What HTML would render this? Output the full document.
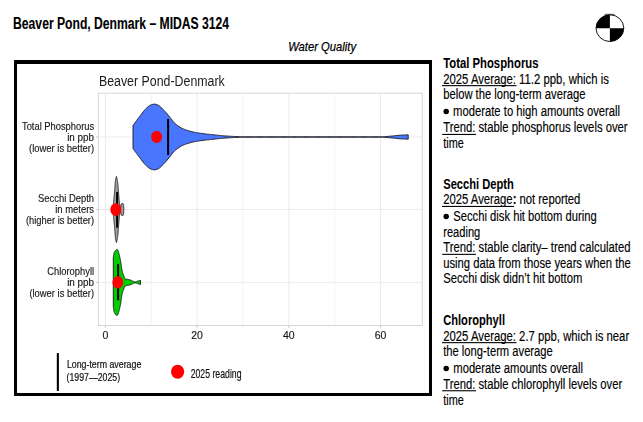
<!DOCTYPE html>
<html><head><meta charset="utf-8"><title>Beaver Pond, Denmark - MIDAS 3124</title>
<style>html,body{margin:0;padding:0;background:#fff;width:643px;height:422px;overflow:hidden}
svg text{font-family:"Liberation Sans",sans-serif}</style></head><body>
<svg width="643" height="422" viewBox="0 0 643 422" style="display:block">
<rect width="643" height="422" fill="#fff"/>
<text x="13.10" y="28.80" font-size="15.6" font-weight="bold" font-style="normal" fill="#000" stroke="#000" stroke-width="0.1" textLength="216.00" lengthAdjust="spacingAndGlyphs">Beaver Pond, Denmark – MIDAS 3124</text>
<text x="288.20" y="51.30" font-size="13" font-weight="normal" font-style="italic" fill="#000" stroke="#000" stroke-width="0.25" textLength="67.83" lengthAdjust="spacingAndGlyphs">Water Quality</text>
<g><path d="M609.9,28.15 L596.0,28.15 A13.9,13.35 0 0 1 609.9,14.799999999999999 Z" fill="#000"/><path d="M609.9,28.15 L623.8,28.15 A13.9,13.35 0 0 1 609.9,41.5 Z" fill="#000"/><ellipse cx="609.9" cy="28.15" rx="13.9" ry="13.35" fill="none" stroke="#000" stroke-width="0.9"/><line x1="604.8" y1="14.3" x2="614.6" y2="14.3" stroke="#000" stroke-width="0.7"/></g>
<rect x="14" y="60" width="418" height="4" fill="#000"/>
<rect x="14" y="60" width="3" height="336" fill="#000"/>
<rect x="429" y="60" width="3" height="336" fill="#000"/>
<rect x="14" y="393" width="418" height="3" fill="#000"/>
<g style="will-change:transform">
<text x="98.90" y="85.50" font-size="14" font-weight="normal" font-style="normal" fill="#1a1a1a" textLength="125.88" lengthAdjust="spacingAndGlyphs">Beaver Pond-Denmark</text>
</g>
<line x1="151.25" y1="93.2" x2="151.25" y2="325.5" stroke="#ebebeb" stroke-width="0.6"/>
<line x1="242.95" y1="93.2" x2="242.95" y2="325.5" stroke="#ebebeb" stroke-width="0.6"/>
<line x1="334.65" y1="93.2" x2="334.65" y2="325.5" stroke="#ebebeb" stroke-width="0.6"/>
<line x1="105.40" y1="93.2" x2="105.40" y2="325.5" stroke="#ebebeb" stroke-width="1"/>
<line x1="197.10" y1="93.2" x2="197.10" y2="325.5" stroke="#ebebeb" stroke-width="1"/>
<line x1="288.80" y1="93.2" x2="288.80" y2="325.5" stroke="#ebebeb" stroke-width="1"/>
<line x1="380.50" y1="93.2" x2="380.50" y2="325.5" stroke="#ebebeb" stroke-width="1"/>
<line x1="98.4" y1="137.0" x2="422.3" y2="137.0" stroke="#ebebeb" stroke-width="1"/>
<line x1="98.4" y1="209.5" x2="422.3" y2="209.5" stroke="#ebebeb" stroke-width="1"/>
<line x1="98.4" y1="282.4" x2="422.3" y2="282.4" stroke="#ebebeb" stroke-width="1"/>
<rect x="98.4" y="93.2" width="323.90" height="232.30" fill="none" stroke="#d6d6d6" stroke-width="1"/>
<line x1="96" y1="137.0" x2="98.4" y2="137.0" stroke="#cfcfcf" stroke-width="1"/>
<line x1="96" y1="209.5" x2="98.4" y2="209.5" stroke="#cfcfcf" stroke-width="1"/>
<line x1="96" y1="282.4" x2="98.4" y2="282.4" stroke="#cfcfcf" stroke-width="1"/>
<line x1="105.40" y1="325.5" x2="105.40" y2="328" stroke="#cfcfcf" stroke-width="1"/>
<line x1="197.10" y1="325.5" x2="197.10" y2="328" stroke="#cfcfcf" stroke-width="1"/>
<line x1="288.80" y1="325.5" x2="288.80" y2="328" stroke="#cfcfcf" stroke-width="1"/>
<line x1="380.50" y1="325.5" x2="380.50" y2="328" stroke="#cfcfcf" stroke-width="1"/>
<path d="M133.00,125.50 L133.92,124.20 L134.84,122.91 L135.76,121.64 L136.68,120.38 L137.60,119.15 L138.52,117.94 L139.44,116.74 L140.36,115.54 L141.28,114.31 L142.20,113.08 L143.12,111.88 L144.04,110.73 L144.97,109.64 L145.89,108.66 L146.81,107.79 L147.73,107.00 L148.65,106.26 L149.57,105.61 L150.49,105.12 L151.41,104.79 L152.33,104.49 L153.25,104.25 L154.17,104.12 L155.09,104.13 L156.01,104.33 L156.93,104.67 L157.85,105.09 L158.77,105.54 L159.69,106.16 L160.61,106.94 L161.53,107.83 L162.45,108.76 L163.37,109.67 L164.29,110.65 L165.21,111.68 L166.13,112.75 L167.05,113.85 L167.98,114.97 L168.90,116.08 L169.82,117.18 L170.74,118.36 L171.66,119.59 L172.58,120.81 L173.50,121.95 L174.42,122.96 L175.34,123.78 L176.26,124.53 L177.18,125.24 L178.10,125.91 L179.02,126.54 L179.94,127.12 L180.86,127.66 L181.78,128.16 L182.70,128.62 L183.62,129.03 L184.54,129.39 L185.46,129.73 L186.38,130.05 L187.30,130.36 L188.22,130.65 L189.14,130.93 L190.06,131.19 L190.99,131.43 L191.91,131.67 L192.83,131.88 L193.75,132.09 L194.67,132.29 L195.59,132.47 L196.51,132.64 L197.43,132.80 L198.35,132.96 L199.27,133.10 L200.19,133.24 L201.11,133.37 L202.03,133.49 L202.95,133.61 L203.87,133.73 L204.79,133.83 L205.71,133.94 L206.63,134.04 L207.55,134.14 L208.47,134.24 L209.39,134.34 L210.31,134.44 L211.23,134.54 L212.15,134.63 L213.07,134.73 L214.00,134.84 L214.92,134.94 L215.84,135.04 L216.76,135.14 L217.68,135.23 L218.60,135.33 L219.52,135.43 L220.44,135.52 L221.36,135.61 L222.28,135.69 L223.20,135.77 L224.12,135.84 L225.04,135.91 L225.96,135.98 L226.88,136.04 L227.80,136.09 L228.72,136.15 L229.64,136.21 L230.56,136.26 L231.48,136.31 L232.40,136.37 L233.32,136.41 L234.24,136.46 L235.16,136.50 L236.08,136.54 L237.01,136.57 L237.93,136.60 L238.85,136.63 L239.77,136.65 L240.69,136.66 L241.61,136.68 L242.53,136.69 L243.45,136.71 L244.37,136.72 L245.29,136.73 L246.21,136.75 L247.13,136.76 L248.05,136.77 L248.97,136.78 L249.89,136.79 L250.81,136.80 L251.73,136.81 L252.65,136.82 L253.57,136.83 L254.49,136.83 L255.41,136.84 L256.33,136.84 L257.25,136.85 L258.17,136.85 L259.09,136.85 L260.02,136.85 L260.94,136.85 L261.86,136.85 L262.78,136.85 L263.70,136.85 L264.62,136.85 L265.54,136.85 L266.46,136.85 L267.38,136.85 L268.30,136.85 L269.22,136.85 L270.14,136.85 L271.06,136.85 L271.98,136.85 L272.90,136.85 L273.82,136.85 L274.74,136.85 L275.66,136.85 L276.58,136.85 L277.50,136.85 L278.42,136.85 L279.34,136.85 L280.26,136.85 L281.18,136.85 L282.11,136.85 L283.03,136.85 L283.95,136.85 L284.87,136.85 L285.79,136.85 L286.71,136.85 L287.63,136.85 L288.55,136.85 L289.47,136.85 L290.39,136.85 L291.31,136.85 L292.23,136.85 L293.15,136.85 L294.07,136.85 L294.99,136.85 L295.91,136.85 L296.83,136.85 L297.75,136.85 L298.67,136.85 L299.59,136.85 L300.51,136.85 L301.43,136.85 L302.35,136.85 L303.27,136.85 L304.19,136.85 L305.12,136.85 L306.04,136.85 L306.96,136.85 L307.88,136.85 L308.80,136.85 L309.72,136.85 L310.64,136.85 L311.56,136.85 L312.48,136.85 L313.40,136.85 L314.32,136.85 L315.24,136.85 L316.16,136.85 L317.08,136.85 L318.00,136.85 L318.92,136.85 L319.84,136.85 L320.76,136.85 L321.68,136.85 L322.60,136.85 L323.52,136.85 L324.44,136.85 L325.36,136.85 L326.28,136.85 L327.20,136.85 L328.13,136.85 L329.05,136.85 L329.97,136.85 L330.89,136.85 L331.81,136.85 L332.73,136.85 L333.65,136.85 L334.57,136.85 L335.49,136.85 L336.41,136.85 L337.33,136.85 L338.25,136.85 L339.17,136.85 L340.09,136.85 L341.01,136.85 L341.93,136.85 L342.85,136.85 L343.77,136.85 L344.69,136.85 L345.61,136.85 L346.53,136.85 L347.45,136.85 L348.37,136.85 L349.29,136.85 L350.21,136.85 L351.14,136.85 L352.06,136.85 L352.98,136.85 L353.90,136.85 L354.82,136.85 L355.74,136.85 L356.66,136.85 L357.58,136.85 L358.50,136.85 L359.42,136.85 L360.34,136.85 L361.26,136.85 L362.18,136.85 L363.10,136.85 L364.02,136.85 L364.94,136.85 L365.86,136.85 L366.78,136.85 L367.70,136.85 L368.62,136.85 L369.54,136.85 L370.46,136.85 L371.38,136.85 L372.30,136.85 L373.22,136.85 L374.15,136.85 L375.07,136.85 L375.99,136.85 L376.91,136.85 L377.83,136.85 L378.75,136.85 L379.67,136.85 L380.59,136.85 L381.51,136.83 L382.43,136.79 L383.35,136.74 L384.27,136.69 L385.19,136.62 L386.11,136.54 L387.03,136.46 L387.95,136.37 L388.87,136.29 L389.79,136.20 L390.71,136.11 L391.63,136.03 L392.55,135.95 L393.47,135.86 L394.39,135.76 L395.31,135.66 L396.23,135.56 L397.16,135.45 L398.08,135.36 L399.00,135.28 L399.92,135.21 L400.84,135.15 L401.76,135.09 L402.68,135.03 L403.60,134.98 L404.52,134.94 L405.44,134.89 L406.36,134.86 L407.28,134.82 L408.20,134.80 L408.20,139.20 L407.28,139.18 L406.36,139.14 L405.44,139.11 L404.52,139.06 L403.60,139.02 L402.68,138.97 L401.76,138.91 L400.84,138.85 L399.92,138.79 L399.00,138.72 L398.08,138.64 L397.16,138.55 L396.23,138.44 L395.31,138.34 L394.39,138.24 L393.47,138.14 L392.55,138.05 L391.63,137.97 L390.71,137.89 L389.79,137.80 L388.87,137.71 L387.95,137.63 L387.03,137.54 L386.11,137.46 L385.19,137.38 L384.27,137.31 L383.35,137.26 L382.43,137.21 L381.51,137.17 L380.59,137.15 L379.67,137.15 L378.75,137.15 L377.83,137.15 L376.91,137.15 L375.99,137.15 L375.07,137.15 L374.15,137.15 L373.22,137.15 L372.30,137.15 L371.38,137.15 L370.46,137.15 L369.54,137.15 L368.62,137.15 L367.70,137.15 L366.78,137.15 L365.86,137.15 L364.94,137.15 L364.02,137.15 L363.10,137.15 L362.18,137.15 L361.26,137.15 L360.34,137.15 L359.42,137.15 L358.50,137.15 L357.58,137.15 L356.66,137.15 L355.74,137.15 L354.82,137.15 L353.90,137.15 L352.98,137.15 L352.06,137.15 L351.14,137.15 L350.21,137.15 L349.29,137.15 L348.37,137.15 L347.45,137.15 L346.53,137.15 L345.61,137.15 L344.69,137.15 L343.77,137.15 L342.85,137.15 L341.93,137.15 L341.01,137.15 L340.09,137.15 L339.17,137.15 L338.25,137.15 L337.33,137.15 L336.41,137.15 L335.49,137.15 L334.57,137.15 L333.65,137.15 L332.73,137.15 L331.81,137.15 L330.89,137.15 L329.97,137.15 L329.05,137.15 L328.13,137.15 L327.20,137.15 L326.28,137.15 L325.36,137.15 L324.44,137.15 L323.52,137.15 L322.60,137.15 L321.68,137.15 L320.76,137.15 L319.84,137.15 L318.92,137.15 L318.00,137.15 L317.08,137.15 L316.16,137.15 L315.24,137.15 L314.32,137.15 L313.40,137.15 L312.48,137.15 L311.56,137.15 L310.64,137.15 L309.72,137.15 L308.80,137.15 L307.88,137.15 L306.96,137.15 L306.04,137.15 L305.12,137.15 L304.19,137.15 L303.27,137.15 L302.35,137.15 L301.43,137.15 L300.51,137.15 L299.59,137.15 L298.67,137.15 L297.75,137.15 L296.83,137.15 L295.91,137.15 L294.99,137.15 L294.07,137.15 L293.15,137.15 L292.23,137.15 L291.31,137.15 L290.39,137.15 L289.47,137.15 L288.55,137.15 L287.63,137.15 L286.71,137.15 L285.79,137.15 L284.87,137.15 L283.95,137.15 L283.03,137.15 L282.11,137.15 L281.18,137.15 L280.26,137.15 L279.34,137.15 L278.42,137.15 L277.50,137.15 L276.58,137.15 L275.66,137.15 L274.74,137.15 L273.82,137.15 L272.90,137.15 L271.98,137.15 L271.06,137.15 L270.14,137.15 L269.22,137.15 L268.30,137.15 L267.38,137.15 L266.46,137.15 L265.54,137.15 L264.62,137.15 L263.70,137.15 L262.78,137.15 L261.86,137.15 L260.94,137.15 L260.02,137.15 L259.09,137.15 L258.17,137.15 L257.25,137.15 L256.33,137.16 L255.41,137.16 L254.49,137.17 L253.57,137.17 L252.65,137.18 L251.73,137.19 L250.81,137.20 L249.89,137.21 L248.97,137.22 L248.05,137.23 L247.13,137.24 L246.21,137.25 L245.29,137.27 L244.37,137.28 L243.45,137.29 L242.53,137.31 L241.61,137.32 L240.69,137.34 L239.77,137.35 L238.85,137.37 L237.93,137.40 L237.01,137.43 L236.08,137.46 L235.16,137.50 L234.24,137.54 L233.32,137.59 L232.40,137.63 L231.48,137.69 L230.56,137.74 L229.64,137.79 L228.72,137.85 L227.80,137.91 L226.88,137.96 L225.96,138.02 L225.04,138.09 L224.12,138.16 L223.20,138.23 L222.28,138.31 L221.36,138.39 L220.44,138.48 L219.52,138.57 L218.60,138.67 L217.68,138.77 L216.76,138.86 L215.84,138.96 L214.92,139.06 L214.00,139.16 L213.07,139.27 L212.15,139.37 L211.23,139.46 L210.31,139.56 L209.39,139.66 L208.47,139.76 L207.55,139.86 L206.63,139.96 L205.71,140.06 L204.79,140.17 L203.87,140.27 L202.95,140.39 L202.03,140.51 L201.11,140.63 L200.19,140.76 L199.27,140.90 L198.35,141.04 L197.43,141.20 L196.51,141.36 L195.59,141.53 L194.67,141.71 L193.75,141.91 L192.83,142.12 L191.91,142.33 L190.99,142.57 L190.06,142.81 L189.14,143.07 L188.22,143.35 L187.30,143.64 L186.38,143.95 L185.46,144.27 L184.54,144.61 L183.62,144.97 L182.70,145.38 L181.78,145.84 L180.86,146.34 L179.94,146.88 L179.02,147.46 L178.10,148.09 L177.18,148.76 L176.26,149.47 L175.34,150.22 L174.42,151.04 L173.50,152.05 L172.58,153.19 L171.66,154.41 L170.74,155.64 L169.82,156.82 L168.90,157.92 L167.98,159.03 L167.05,160.15 L166.13,161.25 L165.21,162.32 L164.29,163.35 L163.37,164.33 L162.45,165.24 L161.53,166.17 L160.61,167.06 L159.69,167.84 L158.77,168.46 L157.85,168.91 L156.93,169.33 L156.01,169.67 L155.09,169.87 L154.17,169.88 L153.25,169.75 L152.33,169.51 L151.41,169.21 L150.49,168.88 L149.57,168.39 L148.65,167.74 L147.73,167.00 L146.81,166.21 L145.89,165.34 L144.97,164.36 L144.04,163.27 L143.12,162.12 L142.20,160.92 L141.28,159.69 L140.36,158.46 L139.44,157.26 L138.52,156.06 L137.60,154.85 L136.68,153.62 L135.76,152.36 L134.84,151.09 L133.92,149.80 L133.00,148.50 Z" fill="#4876ff" stroke="#1a1a1a" stroke-width="0.9" stroke-linejoin="round"/>
<path d="M112.70,209.20 L112.74,208.97 L112.77,208.73 L112.81,208.48 L112.85,208.23 L112.89,207.97 L112.92,207.70 L112.96,207.43 L113.00,207.15 L113.03,206.86 L113.07,206.56 L113.11,206.26 L113.15,205.96 L113.18,205.65 L113.22,205.33 L113.26,205.00 L113.29,204.65 L113.33,204.30 L113.37,203.93 L113.41,203.55 L113.44,203.17 L113.48,202.79 L113.52,202.40 L113.55,202.01 L113.59,201.62 L113.63,201.23 L113.67,200.85 L113.70,200.48 L113.74,200.11 L113.78,199.73 L113.81,199.36 L113.85,198.99 L113.89,198.62 L113.93,198.25 L113.96,197.88 L114.00,197.51 L114.04,197.14 L114.07,196.76 L114.11,196.39 L114.15,196.02 L114.18,195.65 L114.22,195.28 L114.26,194.91 L114.30,194.54 L114.33,194.17 L114.37,193.80 L114.41,193.44 L114.44,193.09 L114.48,192.74 L114.52,192.39 L114.56,192.04 L114.59,191.68 L114.63,191.31 L114.67,190.93 L114.70,190.52 L114.74,190.10 L114.78,189.64 L114.82,189.13 L114.85,188.57 L114.89,187.99 L114.93,187.40 L114.96,186.79 L115.00,186.18 L115.04,185.59 L115.08,185.02 L115.11,184.49 L115.15,184.00 L115.19,183.53 L115.22,183.06 L115.26,182.59 L115.30,182.13 L115.34,181.70 L115.37,181.29 L115.41,180.92 L115.45,180.58 L115.48,180.30 L115.52,180.07 L115.56,179.86 L115.60,179.68 L115.63,179.51 L115.67,179.35 L115.71,179.20 L115.74,179.06 L115.78,178.93 L115.82,178.79 L115.86,178.66 L115.89,178.52 L115.93,178.38 L115.97,178.23 L116.00,178.06 L116.04,177.87 L116.08,177.68 L116.12,177.48 L116.15,177.28 L116.19,177.10 L116.23,176.93 L116.26,176.78 L116.30,176.65 L116.34,176.56 L116.38,176.51 L116.41,176.50 L116.45,176.53 L116.49,176.59 L116.52,176.68 L116.56,176.79 L116.60,176.93 L116.64,177.08 L116.67,177.24 L116.71,177.41 L116.75,177.59 L116.78,177.77 L116.82,177.95 L116.86,178.12 L116.89,178.28 L116.93,178.43 L116.97,178.59 L117.01,178.75 L117.04,178.92 L117.08,179.09 L117.12,179.26 L117.15,179.44 L117.19,179.63 L117.23,179.82 L117.27,180.01 L117.30,180.22 L117.34,180.43 L117.38,180.64 L117.41,180.86 L117.45,181.09 L117.49,181.32 L117.53,181.55 L117.56,181.80 L117.60,182.05 L117.64,182.31 L117.67,182.58 L117.71,182.86 L117.75,183.15 L117.79,183.45 L117.82,183.77 L117.86,184.09 L117.90,184.44 L117.93,184.82 L117.97,185.22 L118.01,185.64 L118.05,186.09 L118.08,186.54 L118.12,187.01 L118.16,187.49 L118.19,187.97 L118.23,188.46 L118.27,188.95 L118.31,189.43 L118.34,189.91 L118.38,190.39 L118.42,190.88 L118.45,191.38 L118.49,191.88 L118.53,192.39 L118.57,192.89 L118.60,193.39 L118.64,193.87 L118.68,194.34 L118.71,194.81 L118.75,195.28 L118.79,195.75 L118.83,196.21 L118.86,196.68 L118.90,197.13 L118.94,197.59 L118.97,198.03 L119.01,198.46 L119.05,198.89 L119.09,199.30 L119.12,199.71 L119.16,200.09 L119.20,200.47 L119.23,200.83 L119.27,201.18 L119.31,201.52 L119.35,201.85 L119.38,202.18 L119.42,202.50 L119.46,202.82 L119.49,203.12 L119.53,203.42 L119.57,203.72 L119.61,204.01 L119.64,204.30 L119.68,204.59 L119.72,204.87 L119.75,205.15 L119.79,205.43 L119.83,205.72 L119.86,206.02 L119.90,206.35 L119.94,206.68 L119.98,207.02 L120.01,207.35 L120.05,207.67 L120.09,207.97 L120.12,208.24 L120.16,208.47 L120.20,208.66 L120.24,208.80 L120.27,208.88 L120.31,208.90 L120.35,208.86 L120.38,208.78 L120.42,208.66 L120.46,208.50 L120.50,208.32 L120.53,208.12 L120.57,207.90 L120.61,207.67 L120.64,207.43 L120.68,207.19 L120.72,206.96 L120.76,206.74 L120.79,206.54 L120.83,206.34 L120.87,206.12 L120.90,205.88 L120.94,205.64 L120.98,205.39 L121.02,205.16 L121.05,204.93 L121.09,204.72 L121.13,204.55 L121.16,204.40 L121.20,204.30 L121.24,204.22 L121.28,204.14 L121.31,204.06 L121.35,203.99 L121.39,203.92 L121.42,203.85 L121.46,203.79 L121.50,203.73 L121.54,203.68 L121.57,203.64 L121.61,203.60 L121.65,203.56 L121.68,203.54 L121.72,203.52 L121.76,203.51 L121.80,203.50 L121.83,203.50 L121.87,203.50 L121.91,203.50 L121.94,203.50 L121.98,203.50 L122.02,203.50 L122.06,203.50 L122.09,203.50 L122.13,203.50 L122.17,203.50 L122.20,203.50 L122.24,203.50 L122.28,203.50 L122.32,203.50 L122.35,203.50 L122.39,203.50 L122.43,203.50 L122.46,203.50 L122.50,203.50 L122.54,203.50 L122.57,203.50 L122.61,203.50 L122.65,203.50 L122.69,203.50 L122.72,203.50 L122.76,203.50 L122.80,203.50 L122.83,203.50 L122.87,203.50 L122.91,203.50 L122.95,203.51 L122.98,203.52 L123.02,203.54 L123.06,203.57 L123.09,203.61 L123.13,203.65 L123.17,203.70 L123.21,203.76 L123.24,203.83 L123.28,203.90 L123.32,203.99 L123.35,204.08 L123.39,204.17 L123.43,204.28 L123.47,204.39 L123.50,204.51 L123.54,204.73 L123.58,205.12 L123.61,205.62 L123.65,206.24 L123.69,206.93 L123.73,207.67 L123.76,208.44 L123.80,209.20 L123.80,209.80 L123.76,210.56 L123.73,211.33 L123.69,212.07 L123.65,212.76 L123.61,213.38 L123.58,213.88 L123.54,214.27 L123.50,214.49 L123.47,214.61 L123.43,214.72 L123.39,214.83 L123.35,214.92 L123.32,215.01 L123.28,215.10 L123.24,215.17 L123.21,215.24 L123.17,215.30 L123.13,215.35 L123.09,215.39 L123.06,215.43 L123.02,215.46 L122.98,215.48 L122.95,215.49 L122.91,215.50 L122.87,215.50 L122.83,215.50 L122.80,215.50 L122.76,215.50 L122.72,215.50 L122.69,215.50 L122.65,215.50 L122.61,215.50 L122.57,215.50 L122.54,215.50 L122.50,215.50 L122.46,215.50 L122.43,215.50 L122.39,215.50 L122.35,215.50 L122.32,215.50 L122.28,215.50 L122.24,215.50 L122.20,215.50 L122.17,215.50 L122.13,215.50 L122.09,215.50 L122.06,215.50 L122.02,215.50 L121.98,215.50 L121.94,215.50 L121.91,215.50 L121.87,215.50 L121.83,215.50 L121.80,215.50 L121.76,215.49 L121.72,215.48 L121.68,215.46 L121.65,215.44 L121.61,215.40 L121.57,215.36 L121.54,215.32 L121.50,215.27 L121.46,215.21 L121.42,215.15 L121.39,215.08 L121.35,215.01 L121.31,214.94 L121.28,214.86 L121.24,214.78 L121.20,214.70 L121.16,214.60 L121.13,214.45 L121.09,214.28 L121.05,214.07 L121.02,213.84 L120.98,213.61 L120.94,213.36 L120.90,213.12 L120.87,212.88 L120.83,212.66 L120.79,212.46 L120.76,212.26 L120.72,212.04 L120.68,211.81 L120.64,211.57 L120.61,211.33 L120.57,211.10 L120.53,210.88 L120.50,210.68 L120.46,210.50 L120.42,210.34 L120.38,210.22 L120.35,210.14 L120.31,210.10 L120.27,210.12 L120.24,210.20 L120.20,210.34 L120.16,210.53 L120.12,210.76 L120.09,211.03 L120.05,211.33 L120.01,211.65 L119.98,211.98 L119.94,212.32 L119.90,212.65 L119.86,212.98 L119.83,213.28 L119.79,213.57 L119.75,213.85 L119.72,214.13 L119.68,214.41 L119.64,214.70 L119.61,214.99 L119.57,215.28 L119.53,215.58 L119.49,215.88 L119.46,216.18 L119.42,216.50 L119.38,216.82 L119.35,217.15 L119.31,217.48 L119.27,217.82 L119.23,218.17 L119.20,218.53 L119.16,218.91 L119.12,219.29 L119.09,219.70 L119.05,220.11 L119.01,220.54 L118.97,220.97 L118.94,221.41 L118.90,221.87 L118.86,222.32 L118.83,222.79 L118.79,223.25 L118.75,223.72 L118.71,224.19 L118.68,224.66 L118.64,225.13 L118.60,225.61 L118.57,226.11 L118.53,226.61 L118.49,227.12 L118.45,227.62 L118.42,228.12 L118.38,228.61 L118.34,229.09 L118.31,229.57 L118.27,230.05 L118.23,230.54 L118.19,231.03 L118.16,231.51 L118.12,231.99 L118.08,232.46 L118.05,232.91 L118.01,233.36 L117.97,233.78 L117.93,234.18 L117.90,234.56 L117.86,234.91 L117.82,235.23 L117.79,235.55 L117.75,235.85 L117.71,236.14 L117.67,236.42 L117.64,236.69 L117.60,236.95 L117.56,237.20 L117.53,237.45 L117.49,237.68 L117.45,237.91 L117.41,238.14 L117.38,238.36 L117.34,238.57 L117.30,238.78 L117.27,238.99 L117.23,239.18 L117.19,239.37 L117.15,239.56 L117.12,239.74 L117.08,239.91 L117.04,240.08 L117.01,240.25 L116.97,240.41 L116.93,240.57 L116.89,240.72 L116.86,240.88 L116.82,241.05 L116.78,241.23 L116.75,241.41 L116.71,241.59 L116.67,241.76 L116.64,241.92 L116.60,242.07 L116.56,242.21 L116.52,242.32 L116.49,242.41 L116.45,242.47 L116.41,242.50 L116.38,242.49 L116.34,242.44 L116.30,242.35 L116.26,242.22 L116.23,242.07 L116.19,241.90 L116.15,241.72 L116.12,241.52 L116.08,241.32 L116.04,241.13 L116.00,240.94 L115.97,240.77 L115.93,240.62 L115.89,240.48 L115.86,240.34 L115.82,240.21 L115.78,240.07 L115.74,239.94 L115.71,239.80 L115.67,239.65 L115.63,239.49 L115.60,239.32 L115.56,239.14 L115.52,238.93 L115.48,238.70 L115.45,238.42 L115.41,238.08 L115.37,237.71 L115.34,237.30 L115.30,236.87 L115.26,236.41 L115.22,235.94 L115.19,235.47 L115.15,235.00 L115.11,234.51 L115.08,233.98 L115.04,233.41 L115.00,232.82 L114.96,232.21 L114.93,231.60 L114.89,231.01 L114.85,230.43 L114.82,229.87 L114.78,229.36 L114.74,228.90 L114.70,228.48 L114.67,228.07 L114.63,227.69 L114.59,227.32 L114.56,226.96 L114.52,226.61 L114.48,226.26 L114.44,225.91 L114.41,225.56 L114.37,225.20 L114.33,224.83 L114.30,224.46 L114.26,224.09 L114.22,223.72 L114.18,223.35 L114.15,222.98 L114.11,222.61 L114.07,222.24 L114.04,221.86 L114.00,221.49 L113.96,221.12 L113.93,220.75 L113.89,220.38 L113.85,220.01 L113.81,219.64 L113.78,219.27 L113.74,218.89 L113.70,218.52 L113.67,218.15 L113.63,217.77 L113.59,217.38 L113.55,216.99 L113.52,216.60 L113.48,216.21 L113.44,215.83 L113.41,215.45 L113.37,215.07 L113.33,214.70 L113.29,214.35 L113.26,214.00 L113.22,213.67 L113.18,213.35 L113.15,213.04 L113.11,212.74 L113.07,212.44 L113.03,212.14 L113.00,211.85 L112.96,211.57 L112.92,211.30 L112.89,211.03 L112.85,210.77 L112.81,210.52 L112.77,210.27 L112.74,210.03 L112.70,209.80 Z" fill="#a0a0a0" stroke="#1a1a1a" stroke-width="0.9" stroke-linejoin="round"/>
<path d="M113.30,257.90 L113.39,257.11 L113.48,256.35 L113.57,255.66 L113.66,255.09 L113.75,254.64 L113.85,254.23 L113.94,253.85 L114.03,253.48 L114.12,253.14 L114.21,252.83 L114.30,252.54 L114.39,252.27 L114.48,252.03 L114.57,251.82 L114.66,251.63 L114.76,251.47 L114.85,251.33 L114.94,251.20 L115.03,251.07 L115.12,250.95 L115.21,250.83 L115.30,250.71 L115.39,250.59 L115.48,250.48 L115.57,250.37 L115.67,250.27 L115.76,250.17 L115.85,250.08 L115.94,249.99 L116.03,249.91 L116.12,249.83 L116.21,249.76 L116.30,249.69 L116.39,249.63 L116.48,249.58 L116.57,249.53 L116.67,249.49 L116.76,249.46 L116.85,249.43 L116.94,249.41 L117.03,249.40 L117.12,249.40 L117.21,249.42 L117.30,249.46 L117.39,249.53 L117.48,249.62 L117.58,249.73 L117.67,249.86 L117.76,250.01 L117.85,250.18 L117.94,250.37 L118.03,250.58 L118.12,250.81 L118.21,251.05 L118.30,251.31 L118.39,251.58 L118.49,251.86 L118.58,252.16 L118.67,252.47 L118.76,252.79 L118.85,253.13 L118.94,253.47 L119.03,253.82 L119.12,254.18 L119.21,254.54 L119.30,254.92 L119.39,255.30 L119.49,255.68 L119.58,256.07 L119.67,256.46 L119.76,256.85 L119.85,257.25 L119.94,257.64 L120.03,258.04 L120.12,258.44 L120.21,258.83 L120.30,259.22 L120.40,259.64 L120.49,260.12 L120.58,260.64 L120.67,261.20 L120.76,261.80 L120.85,262.42 L120.94,263.06 L121.03,263.72 L121.12,264.39 L121.21,265.06 L121.31,265.73 L121.40,266.38 L121.49,267.02 L121.58,267.64 L121.67,268.22 L121.76,268.77 L121.85,269.28 L121.94,269.74 L122.03,270.14 L122.12,270.53 L122.22,270.90 L122.31,271.26 L122.40,271.61 L122.49,271.94 L122.58,272.27 L122.67,272.58 L122.76,272.89 L122.85,273.18 L122.94,273.47 L123.03,273.74 L123.12,274.00 L123.22,274.26 L123.31,274.51 L123.40,274.74 L123.49,274.97 L123.58,275.20 L123.67,275.43 L123.76,275.66 L123.85,275.89 L123.94,276.12 L124.03,276.34 L124.13,276.57 L124.22,276.79 L124.31,277.01 L124.40,277.23 L124.49,277.43 L124.58,277.63 L124.67,277.82 L124.76,278.00 L124.85,278.17 L124.94,278.32 L125.04,278.47 L125.13,278.60 L125.22,278.71 L125.31,278.81 L125.40,278.89 L125.49,278.95 L125.58,278.99 L125.67,279.02 L125.76,279.05 L125.85,279.07 L125.94,279.09 L126.04,279.11 L126.13,279.13 L126.22,279.15 L126.31,279.16 L126.40,279.18 L126.49,279.19 L126.58,279.21 L126.67,279.22 L126.76,279.23 L126.85,279.24 L126.95,279.25 L127.04,279.26 L127.13,279.27 L127.22,279.28 L127.31,279.30 L127.40,279.31 L127.49,279.32 L127.58,279.33 L127.67,279.34 L127.76,279.36 L127.86,279.37 L127.95,279.39 L128.04,279.41 L128.13,279.43 L128.22,279.44 L128.31,279.46 L128.40,279.48 L128.49,279.50 L128.58,279.52 L128.67,279.54 L128.76,279.55 L128.86,279.57 L128.95,279.59 L129.04,279.61 L129.13,279.63 L129.22,279.65 L129.31,279.68 L129.40,279.70 L129.49,279.72 L129.58,279.74 L129.67,279.76 L129.77,279.79 L129.86,279.81 L129.95,279.84 L130.04,279.86 L130.13,279.89 L130.22,279.91 L130.31,279.94 L130.40,279.97 L130.49,280.00 L130.58,280.03 L130.68,280.06 L130.77,280.10 L130.86,280.14 L130.95,280.18 L131.04,280.22 L131.13,280.26 L131.22,280.31 L131.31,280.35 L131.40,280.40 L131.49,280.45 L131.58,280.50 L131.68,280.55 L131.77,280.60 L131.86,280.65 L131.95,280.70 L132.04,280.75 L132.13,280.80 L132.22,280.85 L132.31,280.90 L132.40,280.94 L132.49,280.99 L132.59,281.03 L132.68,281.07 L132.77,281.11 L132.86,281.15 L132.95,281.18 L133.04,281.21 L133.13,281.25 L133.22,281.28 L133.31,281.31 L133.40,281.35 L133.50,281.38 L133.59,281.41 L133.68,281.45 L133.77,281.48 L133.86,281.51 L133.95,281.54 L134.04,281.58 L134.13,281.61 L134.22,281.64 L134.31,281.67 L134.41,281.69 L134.50,281.72 L134.59,281.75 L134.68,281.77 L134.77,281.79 L134.86,281.81 L134.95,281.83 L135.04,281.85 L135.13,281.86 L135.22,281.88 L135.31,281.89 L135.41,281.89 L135.50,281.90 L135.59,281.90 L135.68,281.90 L135.77,281.89 L135.86,281.88 L135.95,281.86 L136.04,281.84 L136.13,281.82 L136.22,281.79 L136.32,281.76 L136.41,281.72 L136.50,281.68 L136.59,281.64 L136.68,281.60 L136.77,281.56 L136.86,281.52 L136.95,281.47 L137.04,281.43 L137.13,281.38 L137.23,281.33 L137.32,281.29 L137.41,281.25 L137.50,281.20 L137.59,281.16 L137.68,281.12 L137.77,281.08 L137.86,281.05 L137.95,281.02 L138.04,280.99 L138.13,280.96 L138.23,280.93 L138.32,280.90 L138.41,280.87 L138.50,280.84 L138.59,280.82 L138.68,280.79 L138.77,280.76 L138.86,280.73 L138.95,280.71 L139.04,280.68 L139.14,280.65 L139.23,280.63 L139.32,280.60 L139.41,280.58 L139.50,280.55 L139.59,280.53 L139.68,280.50 L139.77,280.48 L139.86,280.46 L139.95,280.43 L140.05,280.41 L140.14,280.39 L140.23,280.36 L140.32,280.34 L140.41,280.32 L140.50,280.30 L140.50,284.50 L140.41,284.48 L140.32,284.46 L140.23,284.44 L140.14,284.41 L140.05,284.39 L139.95,284.37 L139.86,284.34 L139.77,284.32 L139.68,284.30 L139.59,284.27 L139.50,284.25 L139.41,284.22 L139.32,284.20 L139.23,284.17 L139.14,284.15 L139.04,284.12 L138.95,284.09 L138.86,284.07 L138.77,284.04 L138.68,284.01 L138.59,283.98 L138.50,283.96 L138.41,283.93 L138.32,283.90 L138.23,283.87 L138.13,283.84 L138.04,283.81 L137.95,283.78 L137.86,283.75 L137.77,283.72 L137.68,283.68 L137.59,283.64 L137.50,283.60 L137.41,283.55 L137.32,283.51 L137.23,283.47 L137.13,283.42 L137.04,283.37 L136.95,283.33 L136.86,283.28 L136.77,283.24 L136.68,283.20 L136.59,283.16 L136.50,283.12 L136.41,283.08 L136.32,283.04 L136.22,283.01 L136.13,282.98 L136.04,282.96 L135.95,282.94 L135.86,282.92 L135.77,282.91 L135.68,282.90 L135.59,282.90 L135.50,282.90 L135.41,282.91 L135.31,282.91 L135.22,282.92 L135.13,282.94 L135.04,282.95 L134.95,282.97 L134.86,282.99 L134.77,283.01 L134.68,283.03 L134.59,283.05 L134.50,283.08 L134.41,283.11 L134.31,283.13 L134.22,283.16 L134.13,283.19 L134.04,283.22 L133.95,283.26 L133.86,283.29 L133.77,283.32 L133.68,283.35 L133.59,283.39 L133.50,283.42 L133.40,283.45 L133.31,283.49 L133.22,283.52 L133.13,283.55 L133.04,283.59 L132.95,283.62 L132.86,283.65 L132.77,283.69 L132.68,283.73 L132.59,283.77 L132.49,283.81 L132.40,283.86 L132.31,283.90 L132.22,283.95 L132.13,284.00 L132.04,284.05 L131.95,284.10 L131.86,284.15 L131.77,284.20 L131.68,284.25 L131.58,284.30 L131.49,284.35 L131.40,284.40 L131.31,284.45 L131.22,284.49 L131.13,284.54 L131.04,284.58 L130.95,284.62 L130.86,284.66 L130.77,284.70 L130.68,284.74 L130.58,284.77 L130.49,284.80 L130.40,284.83 L130.31,284.86 L130.22,284.89 L130.13,284.91 L130.04,284.94 L129.95,284.96 L129.86,284.99 L129.77,285.01 L129.67,285.04 L129.58,285.06 L129.49,285.08 L129.40,285.10 L129.31,285.12 L129.22,285.15 L129.13,285.17 L129.04,285.19 L128.95,285.21 L128.86,285.23 L128.76,285.25 L128.67,285.26 L128.58,285.28 L128.49,285.30 L128.40,285.32 L128.31,285.34 L128.22,285.36 L128.13,285.37 L128.04,285.39 L127.95,285.41 L127.86,285.43 L127.76,285.44 L127.67,285.46 L127.58,285.47 L127.49,285.48 L127.40,285.49 L127.31,285.50 L127.22,285.52 L127.13,285.53 L127.04,285.54 L126.95,285.55 L126.85,285.56 L126.76,285.57 L126.67,285.58 L126.58,285.59 L126.49,285.61 L126.40,285.62 L126.31,285.64 L126.22,285.65 L126.13,285.67 L126.04,285.69 L125.94,285.71 L125.85,285.73 L125.76,285.75 L125.67,285.78 L125.58,285.81 L125.49,285.85 L125.40,285.91 L125.31,285.99 L125.22,286.09 L125.13,286.20 L125.04,286.33 L124.94,286.48 L124.85,286.63 L124.76,286.80 L124.67,286.98 L124.58,287.17 L124.49,287.37 L124.40,287.57 L124.31,287.79 L124.22,288.01 L124.13,288.23 L124.03,288.46 L123.94,288.68 L123.85,288.91 L123.76,289.14 L123.67,289.37 L123.58,289.60 L123.49,289.83 L123.40,290.06 L123.31,290.29 L123.22,290.54 L123.12,290.80 L123.03,291.06 L122.94,291.33 L122.85,291.62 L122.76,291.91 L122.67,292.22 L122.58,292.53 L122.49,292.86 L122.40,293.19 L122.31,293.54 L122.22,293.90 L122.12,294.27 L122.03,294.66 L121.94,295.06 L121.85,295.52 L121.76,296.03 L121.67,296.58 L121.58,297.16 L121.49,297.78 L121.40,298.42 L121.31,299.07 L121.21,299.74 L121.12,300.41 L121.03,301.08 L120.94,301.74 L120.85,302.38 L120.76,303.00 L120.67,303.60 L120.58,304.16 L120.49,304.68 L120.40,305.16 L120.30,305.58 L120.21,305.97 L120.12,306.36 L120.03,306.76 L119.94,307.16 L119.85,307.55 L119.76,307.95 L119.67,308.34 L119.58,308.73 L119.49,309.12 L119.39,309.50 L119.30,309.88 L119.21,310.26 L119.12,310.62 L119.03,310.98 L118.94,311.33 L118.85,311.67 L118.76,312.01 L118.67,312.33 L118.58,312.64 L118.49,312.94 L118.39,313.22 L118.30,313.49 L118.21,313.75 L118.12,313.99 L118.03,314.22 L117.94,314.43 L117.85,314.62 L117.76,314.79 L117.67,314.94 L117.58,315.07 L117.48,315.18 L117.39,315.27 L117.30,315.34 L117.21,315.38 L117.12,315.40 L117.03,315.40 L116.94,315.39 L116.85,315.37 L116.76,315.34 L116.67,315.31 L116.57,315.27 L116.48,315.22 L116.39,315.17 L116.30,315.11 L116.21,315.04 L116.12,314.97 L116.03,314.89 L115.94,314.81 L115.85,314.72 L115.76,314.63 L115.67,314.53 L115.57,314.43 L115.48,314.32 L115.39,314.21 L115.30,314.09 L115.21,313.97 L115.12,313.85 L115.03,313.73 L114.94,313.60 L114.85,313.47 L114.76,313.33 L114.66,313.17 L114.57,312.98 L114.48,312.77 L114.39,312.53 L114.30,312.26 L114.21,311.97 L114.12,311.66 L114.03,311.32 L113.94,310.95 L113.85,310.57 L113.75,310.16 L113.66,309.71 L113.57,309.14 L113.48,308.45 L113.39,307.69 L113.30,306.90 Z" fill="#00cd00" stroke="#1a1a1a" stroke-width="0.9" stroke-linejoin="round"/>
<rect x="167.1" y="119" width="2" height="36" fill="#000"/>
<rect x="116.1" y="191.9" width="2" height="35.8" fill="#000"/>
<rect x="117.1" y="264.2" width="2" height="36.1" fill="#000"/>
<ellipse cx="156.6" cy="136.9" rx="5.4" ry="6.2" fill="#ff0000"/>
<ellipse cx="115.8" cy="209.6" rx="5.5" ry="6.3" fill="#ff0000"/>
<ellipse cx="117.8" cy="282.4" rx="5.4" ry="6.3" fill="#ff0000"/>
<g style="will-change:transform">
<text x="22.00" y="129.60" font-size="11.3" font-weight="normal" font-style="normal" fill="#161616" stroke="#161616" stroke-width="0.15" textLength="72.10" lengthAdjust="spacingAndGlyphs">Total Phosphorus</text>
<text x="67.16" y="140.80" font-size="11.3" font-weight="normal" font-style="normal" fill="#161616" stroke="#161616" stroke-width="0.15" textLength="26.94" lengthAdjust="spacingAndGlyphs">in ppb</text>
<text x="29.00" y="152.00" font-size="11.3" font-weight="normal" font-style="normal" fill="#161616" stroke="#161616" stroke-width="0.15" textLength="65.10" lengthAdjust="spacingAndGlyphs">(lower is better)</text>
<text x="38.10" y="201.80" font-size="11.3" font-weight="normal" font-style="normal" fill="#161616" stroke="#161616" stroke-width="0.15" textLength="56.00" lengthAdjust="spacingAndGlyphs">Secchi Depth</text>
<text x="55.20" y="213.00" font-size="11.3" font-weight="normal" font-style="normal" fill="#161616" stroke="#161616" stroke-width="0.15" textLength="38.90" lengthAdjust="spacingAndGlyphs">in meters</text>
<text x="25.90" y="224.20" font-size="11.3" font-weight="normal" font-style="normal" fill="#161616" stroke="#161616" stroke-width="0.15" textLength="68.20" lengthAdjust="spacingAndGlyphs">(higher is better)</text>
<text x="47.20" y="274.50" font-size="11.3" font-weight="normal" font-style="normal" fill="#161616" stroke="#161616" stroke-width="0.15" textLength="46.90" lengthAdjust="spacingAndGlyphs">Chlorophyll</text>
<text x="67.16" y="285.90" font-size="11.3" font-weight="normal" font-style="normal" fill="#161616" stroke="#161616" stroke-width="0.15" textLength="26.94" lengthAdjust="spacingAndGlyphs">in ppb</text>
<text x="29.40" y="297.20" font-size="11.3" font-weight="normal" font-style="normal" fill="#161616" stroke="#161616" stroke-width="0.15" textLength="64.70" lengthAdjust="spacingAndGlyphs">(lower is better)</text>
<text x="102.52" y="338.50" font-size="11.7" font-weight="normal" font-style="normal" fill="#161616" stroke="#161616" stroke-width="0.15" textLength="5.86" lengthAdjust="spacingAndGlyphs">0</text>
<text x="191.15" y="338.50" font-size="11.7" font-weight="normal" font-style="normal" fill="#161616" stroke="#161616" stroke-width="0.15" textLength="11.71" lengthAdjust="spacingAndGlyphs">20</text>
<text x="282.95" y="338.50" font-size="11.7" font-weight="normal" font-style="normal" fill="#161616" stroke="#161616" stroke-width="0.15" textLength="11.71" lengthAdjust="spacingAndGlyphs">40</text>
<text x="374.65" y="338.50" font-size="11.7" font-weight="normal" font-style="normal" fill="#161616" stroke="#161616" stroke-width="0.15" textLength="11.71" lengthAdjust="spacingAndGlyphs">60</text>
<rect x="56.8" y="353.1" width="2.1" height="37.8" fill="#000"/>
<text x="66.90" y="368.00" font-size="10.7" font-weight="normal" font-style="normal" fill="#111" stroke="#111" stroke-width="0.2" textLength="74.40" lengthAdjust="spacingAndGlyphs">Long-term average</text>
<text x="66.60" y="380.80" font-size="10.7" font-weight="normal" font-style="normal" fill="#111" stroke="#111" stroke-width="0.2" textLength="53.50" lengthAdjust="spacingAndGlyphs">(1997—2025)</text>
<ellipse cx="177.6" cy="371.8" rx="6.6" ry="7.0" fill="#ff0000"/>
<text x="190.70" y="377.50" font-size="13" font-weight="normal" font-style="normal" fill="#111" stroke="#111" stroke-width="0.2" textLength="50.80" lengthAdjust="spacingAndGlyphs">2025 reading</text>
</g>
<text x="443.20" y="67.70" font-size="14.2" font-weight="bold" font-style="normal" fill="#000" stroke="#000" stroke-width="0.05" textLength="95.30" lengthAdjust="spacingAndGlyphs">Total Phosphorus</text>
<text x="443.20" y="83.70" font-size="13.8" font-weight="normal" font-style="normal" fill="#000" stroke="#000" stroke-width="0.15" textLength="165.70" lengthAdjust="spacingAndGlyphs">2025 Average: 11.2 ppb, which is</text>
<rect x="442.0" y="85.10" width="74.50" height="1.1" fill="#000"/>
<text x="443.20" y="98.70" font-size="13.8" font-weight="normal" font-style="normal" fill="#000" stroke="#000" stroke-width="0.15" textLength="142.20" lengthAdjust="spacingAndGlyphs">below the long-term average</text>
<circle cx="446.2" cy="111.60" r="2.75" fill="#000"/>
<text x="453.10" y="115.70" font-size="13.8" font-weight="normal" font-style="normal" fill="#000" stroke="#000" stroke-width="0.15" textLength="167.00" lengthAdjust="spacingAndGlyphs">moderate to high amounts overall</text>
<text x="443.20" y="131.90" font-size="13.8" font-weight="normal" font-style="normal" fill="#000" stroke="#000" stroke-width="0.15" textLength="184.40" lengthAdjust="spacingAndGlyphs">Trend: stable phosphorus levels over</text>
<rect x="442.2" y="133.90" width="33.80" height="1.1" fill="#000"/>
<text x="443.20" y="147.50" font-size="13.8" font-weight="normal" font-style="normal" fill="#000" stroke="#000" stroke-width="0.15" textLength="20.60" lengthAdjust="spacingAndGlyphs">time</text>
<text x="443.20" y="188.80" font-size="14.2" font-weight="bold" font-style="normal" fill="#000" stroke="#000" stroke-width="0.05" textLength="70.70" lengthAdjust="spacingAndGlyphs">Secchi Depth</text>
<text x="443.20" y="204.20" font-size="13.8" font-weight="normal" font-style="normal" fill="#000" stroke="#000" stroke-width="0.15" textLength="137.20" lengthAdjust="spacingAndGlyphs">2025 Average<tspan font-weight="bold">:</tspan> not reported</text>
<rect x="442.0" y="205.90" width="72.00" height="1.1" fill="#000"/>
<circle cx="446.2" cy="216.40" r="2.75" fill="#000"/>
<text x="453.30" y="220.60" font-size="13.8" font-weight="normal" font-style="normal" fill="#000" stroke="#000" stroke-width="0.15" textLength="143.40" lengthAdjust="spacingAndGlyphs">Secchi disk hit bottom during</text>
<text x="443.20" y="236.80" font-size="13.8" font-weight="normal" font-style="normal" fill="#000" stroke="#000" stroke-width="0.15" textLength="37.10" lengthAdjust="spacingAndGlyphs">reading</text>
<text x="443.20" y="252.00" font-size="13.8" font-weight="normal" font-style="normal" fill="#000" stroke="#000" stroke-width="0.15" textLength="187.30" lengthAdjust="spacingAndGlyphs">Trend: stable clarity– trend calculated</text>
<rect x="442.2" y="253.80" width="33.80" height="1.1" fill="#000"/>
<text x="443.20" y="267.80" font-size="13.8" font-weight="normal" font-style="normal" fill="#000" stroke="#000" stroke-width="0.15" textLength="187.60" lengthAdjust="spacingAndGlyphs">using data from those years when the</text>
<text x="443.20" y="283.10" font-size="13.8" font-weight="normal" font-style="normal" fill="#000" stroke="#000" stroke-width="0.15" textLength="139.10" lengthAdjust="spacingAndGlyphs">Secchi disk didn’t hit bottom</text>
<text x="443.20" y="324.60" font-size="14.2" font-weight="bold" font-style="normal" fill="#000" stroke="#000" stroke-width="0.05" textLength="61.80" lengthAdjust="spacingAndGlyphs">Chlorophyll</text>
<text x="443.20" y="340.80" font-size="13.8" font-weight="normal" font-style="normal" fill="#000" stroke="#000" stroke-width="0.15" textLength="186.00" lengthAdjust="spacingAndGlyphs">2025 Average: 2.7 ppb, which is near</text>
<rect x="442.0" y="342.10" width="74.50" height="1.1" fill="#000"/>
<text x="443.20" y="355.80" font-size="13.8" font-weight="normal" font-style="normal" fill="#000" stroke="#000" stroke-width="0.15" textLength="109.60" lengthAdjust="spacingAndGlyphs">the long-term average</text>
<circle cx="446.2" cy="368.40" r="2.75" fill="#000"/>
<text x="453.30" y="372.80" font-size="13.8" font-weight="normal" font-style="normal" fill="#000" stroke="#000" stroke-width="0.15" textLength="129.70" lengthAdjust="spacingAndGlyphs">moderate amounts overall</text>
<text x="443.20" y="388.60" font-size="13.8" font-weight="normal" font-style="normal" fill="#000" stroke="#000" stroke-width="0.15" textLength="179.00" lengthAdjust="spacingAndGlyphs">Trend: stable chlorophyll levels over</text>
<rect x="442.2" y="390.20" width="33.80" height="1.1" fill="#000"/>
<text x="443.20" y="404.50" font-size="13.8" font-weight="normal" font-style="normal" fill="#000" stroke="#000" stroke-width="0.15" textLength="20.60" lengthAdjust="spacingAndGlyphs">time</text>
</svg>
</body></html>
